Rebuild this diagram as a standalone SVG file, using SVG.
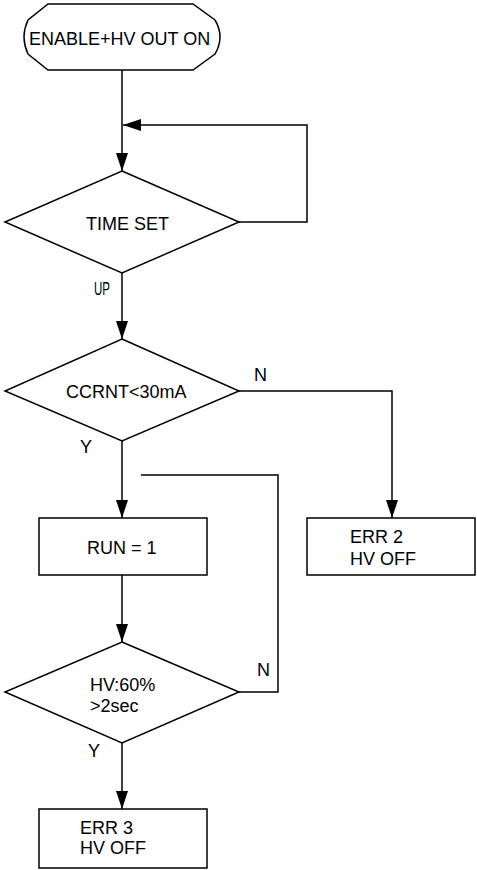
<svg xmlns="http://www.w3.org/2000/svg" width="477" height="870" viewBox="0 0 477 870">
  <style>
    .shape { fill: #ffffff; stroke: #000000; stroke-width: 1.5; }
    .wire { fill: none; stroke: #000000; stroke-width: 1.5; }
    text { font-family: "Liberation Sans", Arial, sans-serif; font-size: 18px; fill: #000000; }
  </style>
  <defs>
    <marker id="arrow" markerUnits="userSpaceOnUse" markerWidth="18" markerHeight="12" refX="18" refY="6" orient="auto">
      <path d="M0,0 L18,6 L0,12 Z" fill="#000000"/>
    </marker>
  </defs>

  <!-- connectors -->
  <g id="connectors">
    <path class="wire" d="M122,70 V171" marker-end="url(#arrow)"/>
    <path class="wire" d="M239,222 H307 V125 H123" marker-end="url(#arrow)"/>
    <path class="wire" d="M122,273 V339" marker-end="url(#arrow)"/>
    <path class="wire" d="M239,391 H392 V518" marker-end="url(#arrow)"/>
    <path class="wire" d="M122,441 V518" marker-end="url(#arrow)"/>
    <path class="wire" d="M122,575 V642" marker-end="url(#arrow)"/>
    <path class="wire" d="M239,692 H278 V475 H141"/>
    <path class="wire" d="M122,743 V809" marker-end="url(#arrow)"/>
    <text x="94" y="295" textLength="16" lengthAdjust="spacingAndGlyphs">UP</text>
    <text x="254" y="381">N</text>
    <text x="80" y="453">Y</text>
    <text x="257" y="676">N</text>
    <text x="88" y="757">Y</text>
  </g>

  <!-- start terminator -->
  <g id="start">
    <path class="shape" d="M48,4 H193 L215,20 Q225,37 215,54 L193,70 H48 L28,54 Q20,37 28,20 Z"/>
    <text x="29" y="45">ENABLE+HV OUT ON</text>
  </g>

  <!-- decisions -->
  <g id="time-set">
    <polygon class="shape" points="122,171 239,222 122,273 5,222"/>
    <text x="86" y="230">TIME SET</text>
  </g>

  <g id="current-check">
    <polygon class="shape" points="122,339 239,391 122,441 5,391"/>
    <text x="66" y="398">CCRNT&lt;30mA</text>
  </g>

  <!-- processes -->
  <g id="run">
    <rect class="shape" x="39" y="518" width="168" height="57"/>
    <text x="87" y="554">RUN = 1</text>
  </g>

  <g id="err2">
    <rect class="shape" x="307" y="518" width="168" height="57"/>
    <text x="350" y="543">ERR 2</text>
    <text x="350" y="565">HV OFF</text>
  </g>

  <g id="hv-check">
    <polygon class="shape" points="122,642 239,692 122,743 5,692"/>
    <text x="90" y="691">HV:60%</text>
    <text x="90" y="712">&gt;2sec</text>
  </g>

  <g id="err3">
    <rect class="shape" x="39" y="809" width="168" height="59"/>
    <text x="80" y="834">ERR 3</text>
    <text x="80" y="854">HV OFF</text>
  </g>
</svg>
